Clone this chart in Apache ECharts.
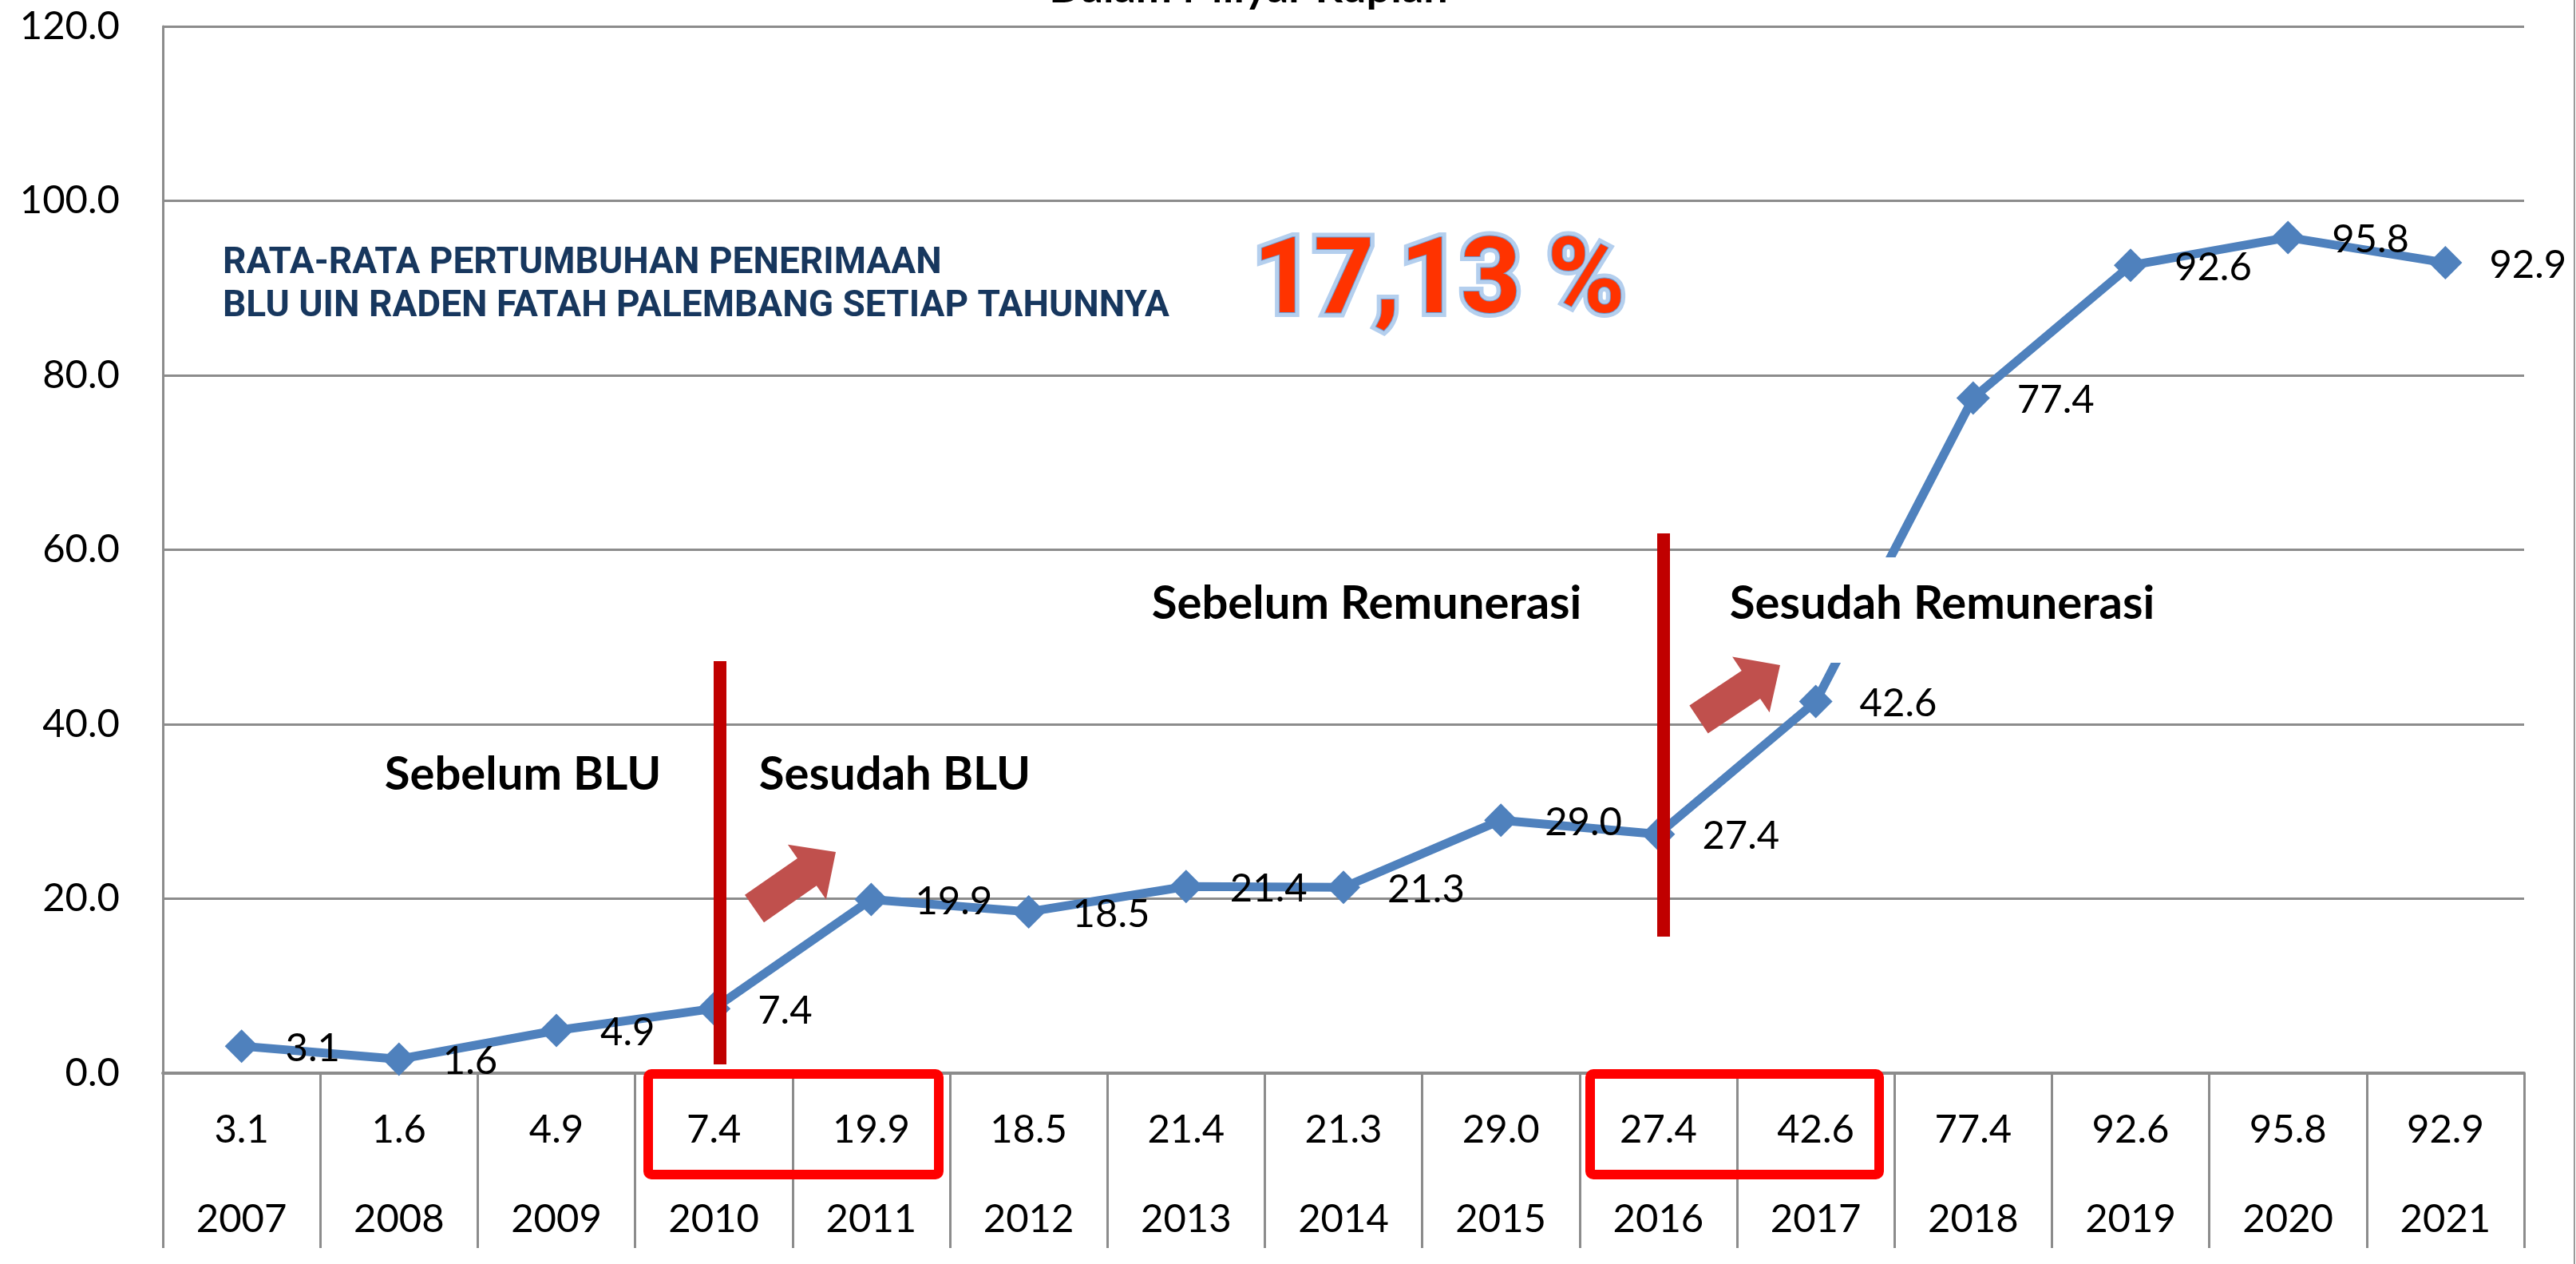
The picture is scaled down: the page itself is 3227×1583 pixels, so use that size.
<!DOCTYPE html>
<html>
<head>
<meta charset="utf-8">
<script src="https://cdn.jsdelivr.net/npm/echarts@6/dist/echarts.min.js"></script>
<style>
html,body{margin:0;padding:0;background:#fff;}
#c{width:3227px;height:1583px;}
</style>
</head>
<body>
<div id="c"></div>
<script>
// ---- data ----
const years = ['2007','2008','2009','2010','2011','2012','2013','2014','2015','2016','2017','2018','2019','2020','2021'];
const revenue = [3.1, 1.6, 4.9, 7.4, 19.9, 18.5, 21.4, 21.3, 29.0, 27.4, 42.6, 77.4, 92.6, 95.8, 92.9];
const yMin = 0, yMax = 120, yStep = 20;
const titleText = 'Dalam Milyar Rupiah';
const noteLines = ['RATA-RATA PERTUMBUHAN PENERIMAAN', 'BLU UIN RADEN FATAH PALEMBANG SETIAP TAHUNNYA'];
const growthText = '17,13 %';
const phaseLabels = ['Sebelum BLU', 'Sesudah BLU', 'Sebelum Remunerasi', 'Sesudah Remunerasi'];

const FONT = 'Lato';
const GRID = '#8c8c8c';

function arrowPoints(tx, ty, px, py, hw, HW, hl) {
  const dx = px - tx, dy = py - ty;
  const L = Math.sqrt(dx*dx + dy*dy);
  const ux = dx / L, uy = dy / L;
  const nx = -uy, ny = ux;
  const bx = px - ux*hl, by = py - uy*hl;
  return [
    [tx + nx*hw, ty + ny*hw],
    [bx + nx*hw, by + ny*hw],
    [bx + nx*HW, by + ny*HW],
    [px, py],
    [bx - nx*HW, by - ny*HW],
    [bx - nx*hw, by - ny*hw],
    [tx - nx*hw, ty - ny*hw]
  ];
}

const chart = echarts.init(document.getElementById('c'));
const option = {
  animation: false,
  backgroundColor: '#ffffff',
  grid: { left: 204, right: 65, top: 33, bottom: 239, containLabel: false },
  xAxis: [
    {
      type: 'category',
      data: years,
      boundaryGap: true,
      position: 'bottom',
      axisLine: { show: true, lineStyle: { color: GRID, width: 4 } },
      axisTick: { show: true, length: 219, inside: false, lineStyle: { color: GRID, width: 3 } },
      axisLabel: {
        interval: 0, margin: 46, fontFamily: FONT, fontSize: 49, lineHeight: 50, color: '#000',
        formatter: function (v, i) { return revenue[i].toFixed(1); }
      },
      splitLine: { show: false }
    },
    {
      type: 'category',
      data: years,
      boundaryGap: true,
      position: 'bottom',
      axisLine: { show: false },
      axisTick: { show: false },
      axisLabel: { interval: 0, margin: 158, fontFamily: FONT, fontSize: 49, lineHeight: 50, color: '#000' },
      splitLine: { show: false }
    }
  ],
  yAxis: {
    type: 'value',
    min: yMin, max: yMax, interval: yStep,
    axisLine: { show: true, lineStyle: { color: GRID, width: 3 } },
    axisTick: { show: false },
    axisLabel: {
      margin: 54, fontFamily: FONT, fontSize: 49, color: '#000',
      formatter: function (v) { return v.toFixed(1); }
    },
    splitLine: { show: true, lineStyle: { color: GRID, width: 3 } }
  },
  series: [{
    type: 'line',
    data: revenue,
    xAxisIndex: 0,
    symbol: 'diamond',
    symbolSize: 42,
    lineStyle: { color: '#4F81BD', width: 11 },
    itemStyle: { color: '#4F81BD' },
    z: 3,
    label: {
      show: true, position: 'right', distance: 34, offset: [0, 3],
      fontFamily: FONT, fontSize: 49, color: '#000',
      formatter: function (p) { return p.value.toFixed(1); }
    }
  }],
  graphic: [
    // right image border
    { type: 'line', z: 50, shape: { x1: 3225, y1: 0, x2: 3225, y2: 1583 }, style: { stroke: '#9a9a9a', lineWidth: 2 } },
    // partially cut title
    { type: 'text', z: 50, x: 1564, y: -14, style: { text: titleText, fontFamily: FONT, fontWeight: 'bold', fontSize: 54, fill: '#000', align: 'center', verticalAlign: 'middle' } },
    // note text
    { type: 'text', z: 50, x: 279, y: 330, style: { text: noteLines[0], fontFamily: 'Roboto', fontWeight: 'bold', fontSize: 46, fill: '#17375E', align: 'left', verticalAlign: 'middle' } },
    { type: 'text', z: 50, x: 279, y: 384, style: { text: noteLines[1], fontFamily: 'Roboto', fontWeight: 'bold', fontSize: 46, fill: '#17375E', align: 'left', verticalAlign: 'middle' } },
    // growth figure (glow + fill)
    { type: 'text', z: 50, x: 1570, y: 358, style: { text: growthText, fontFamily: 'Roboto', fontWeight: 'bold', fontSize: 132, fill: '#B4CFEE', stroke: '#B4CFEE', lineWidth: 12, align: 'left', verticalAlign: 'middle', shadowBlur: 6, shadowColor: 'rgba(120,160,215,0.6)' } },
    { type: 'text', z: 51, x: 1570, y: 358, style: { text: growthText, fontFamily: 'Roboto', fontWeight: 'bold', fontSize: 132, fill: '#FF3300', stroke: '#6E9BD2', lineWidth: 2, align: 'left', verticalAlign: 'middle' } },
    // white box behind "Sesudah Remunerasi"
    { type: 'rect', z: 40, shape: { x: 2140, y: 698, width: 590, height: 132 }, style: { fill: '#ffffff' } },
    // phase labels
    { type: 'text', z: 50, x: 655, y: 970, style: { text: phaseLabels[0], fontFamily: FONT, fontWeight: 'bold', fontSize: 58, fill: '#000', align: 'center', verticalAlign: 'middle' } },
    { type: 'text', z: 50, x: 1121, y: 970, style: { text: phaseLabels[1], fontFamily: FONT, fontWeight: 'bold', fontSize: 58, fill: '#000', align: 'center', verticalAlign: 'middle' } },
    { type: 'text', z: 50, x: 1712, y: 756, style: { text: phaseLabels[2], fontFamily: FONT, fontWeight: 'bold', fontSize: 58, fill: '#000', align: 'center', verticalAlign: 'middle' } },
    { type: 'text', z: 50, x: 2433, y: 756, style: { text: phaseLabels[3], fontFamily: FONT, fontWeight: 'bold', fontSize: 58, fill: '#000', align: 'center', verticalAlign: 'middle' } },
    // red divider lines
    { type: 'rect', z: 60, shape: { x: 894, y: 828, width: 16, height: 505 }, style: { fill: '#C00000' } },
    { type: 'rect', z: 60, shape: { x: 2076, y: 668, width: 16, height: 505 }, style: { fill: '#C00000' } },
    // arrows
    { type: 'polygon', z: 60, shape: { points: arrowPoints(945, 1138, 1047, 1067, 21, 42, 44) }, style: { fill: '#C0504D' } },
    { type: 'polygon', z: 60, shape: { points: arrowPoints(2128, 901, 2230, 833, 21, 42, 44) }, style: { fill: '#C0504D' } },
    // red boxes in the table
    { type: 'rect', z: 60, shape: { x: 812, y: 1345, width: 364, height: 126, r: 4 }, style: { fill: 'none', stroke: '#FF0000', lineWidth: 12 } },
    { type: 'rect', z: 60, shape: { x: 1992, y: 1345, width: 362, height: 126, r: 4 }, style: { fill: 'none', stroke: '#FF0000', lineWidth: 12 } }
  ]
};
chart.setOption(option);
</script>
</body>
</html>
